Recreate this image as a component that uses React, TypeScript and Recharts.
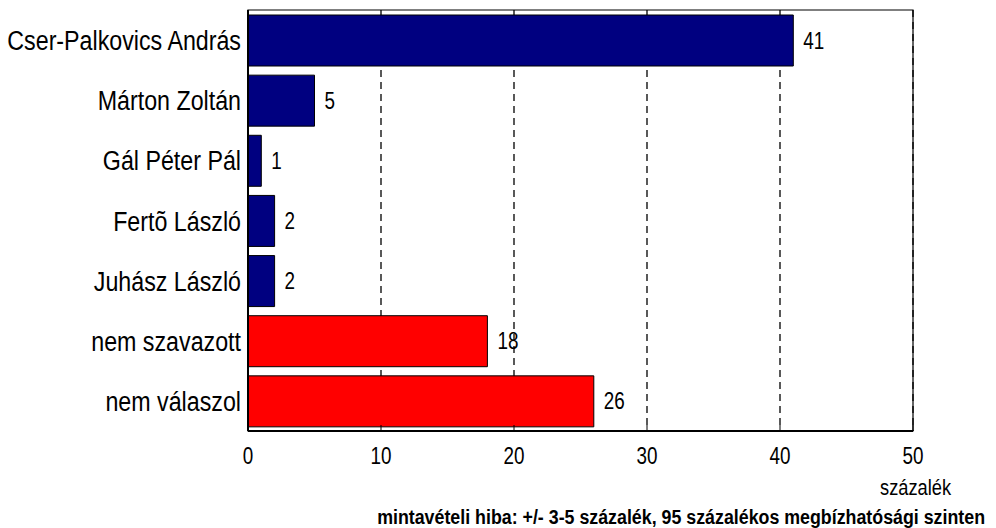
import React from 'react';
import {
  BarChart,
  Bar,
  XAxis,
  YAxis,
  CartesianGrid,
  Cell,
  LabelList,
  ReferenceArea,
} from 'recharts';

const CANDIDATES = [
  'Cser-Palkovics András',
  'Márton Zoltán',
  'Gál Péter Pál',
  'Fertõ László',
  'Juhász László',
  'nem szavazott',
  'nem válaszol',
];
const PERCENTS = [41, 5, 1, 2, 2, 18, 26];
const BAR_COLORS = ['#000080', '#000080', '#000080', '#000080', '#000080', '#FF0000', '#FF0000'];
const X_TICKS = [0, 10, 20, 30, 40, 50];

const FONT = '"Liberation Sans", Arial, sans-serif';

const data = CANDIDATES.map((name, i) => ({ name, value: PERCENTS[i] }));

// the original uses a narrow font, so squeeze Liberation Sans horizontally
const XTick = (props: any) => {
  const { x, y, payload } = props;
  return (
    <g>
      <line x1={x} x2={x} y1={y} y2={y - 6} stroke="#000" />
      <text
        transform={`translate(${x},${y + 33}) scale(0.82,1)`}
        textAnchor="middle"
        fontSize={23}
        fontFamily={FONT}
        fill="#000"
      >
        {payload.value}
      </text>
    </g>
  );
};

const YTick = (props: any) => {
  const { x, y, payload } = props;
  return (
    <text
      transform={`translate(${x - 7},${y + 10}) scale(0.83,1)`}
      textAnchor="end"
      fontSize={28}
      fontFamily={FONT}
      fill="#000"
    >
      {payload.value}
    </text>
  );
};

const BarValue = (props: any) => {
  const { x, y, width, height, value } = props;
  return (
    <text
      transform={`translate(${x + width + 10},${y + height / 2 + 8}) scale(0.82,1)`}
      textAnchor="start"
      fontSize={23}
      fontFamily={FONT}
      fill="#000"
    >
      {value}
    </text>
  );
};

export default function App() {
  return (
    <div style={{ position: 'absolute', left: 0, top: 0, width: 996, height: 528, background: '#fff', overflow: 'hidden' }}>
      <BarChart
        width={996}
        height={528}
        data={data}
        layout="vertical"
        margin={{ top: 10, right: 83, bottom: 0, left: 0 }}
      >
        <CartesianGrid horizontal={false} stroke="#000" strokeWidth={1.3} strokeDasharray="7 5" />
        <XAxis
          type="number"
          domain={[0, 50]}
          ticks={X_TICKS}
          height={97}
          tickSize={0}
          tickMargin={0}
          tick={<XTick />}
          axisLine={{ stroke: '#000', strokeWidth: 2 }}
          interval={0}
        />
        <YAxis
          type="category"
          dataKey="name"
          width={248}
          tickSize={0}
          tickMargin={0}
          tick={<YTick />}
          axisLine={{ stroke: '#000', strokeWidth: 2 }}
          interval={0}
        />
        <ReferenceArea x1={0} x2={50} fill="none" stroke="#000" strokeWidth={1.2} fillOpacity={0} ifOverflow="visible" />
        <Bar dataKey="value" barSize={51} stroke="#000" strokeWidth={1} isAnimationActive={false}>
          {data.map((_, i) => (
            <Cell key={`c-${i}`} fill={BAR_COLORS[i]} />
          ))}
          <LabelList dataKey="value" content={<BarValue />} />
        </Bar>
      </BarChart>
      <div
        style={{
          position: 'absolute',
          left: 880,
          top: 477,
          fontFamily: FONT,
          fontSize: 22,
          color: '#000',
          lineHeight: '22px',
          whiteSpace: 'nowrap',
          transform: 'scaleX(0.83)',
          transformOrigin: 'left top',
        }}
      >
        százalék
      </div>
      <div
        style={{
          position: 'absolute',
          right: 11,
          top: 506,
          fontFamily: FONT,
          fontSize: 20,
          fontWeight: 'bold',
          color: '#000',
          whiteSpace: 'nowrap',
          lineHeight: '22px',
          transform: 'scaleX(0.89)',
          transformOrigin: 'right top',
        }}
      >
        mintavételi hiba: +/- 3-5 százalék, 95 százalékos megbízhatósági szinten
      </div>
    </div>
  );
}
